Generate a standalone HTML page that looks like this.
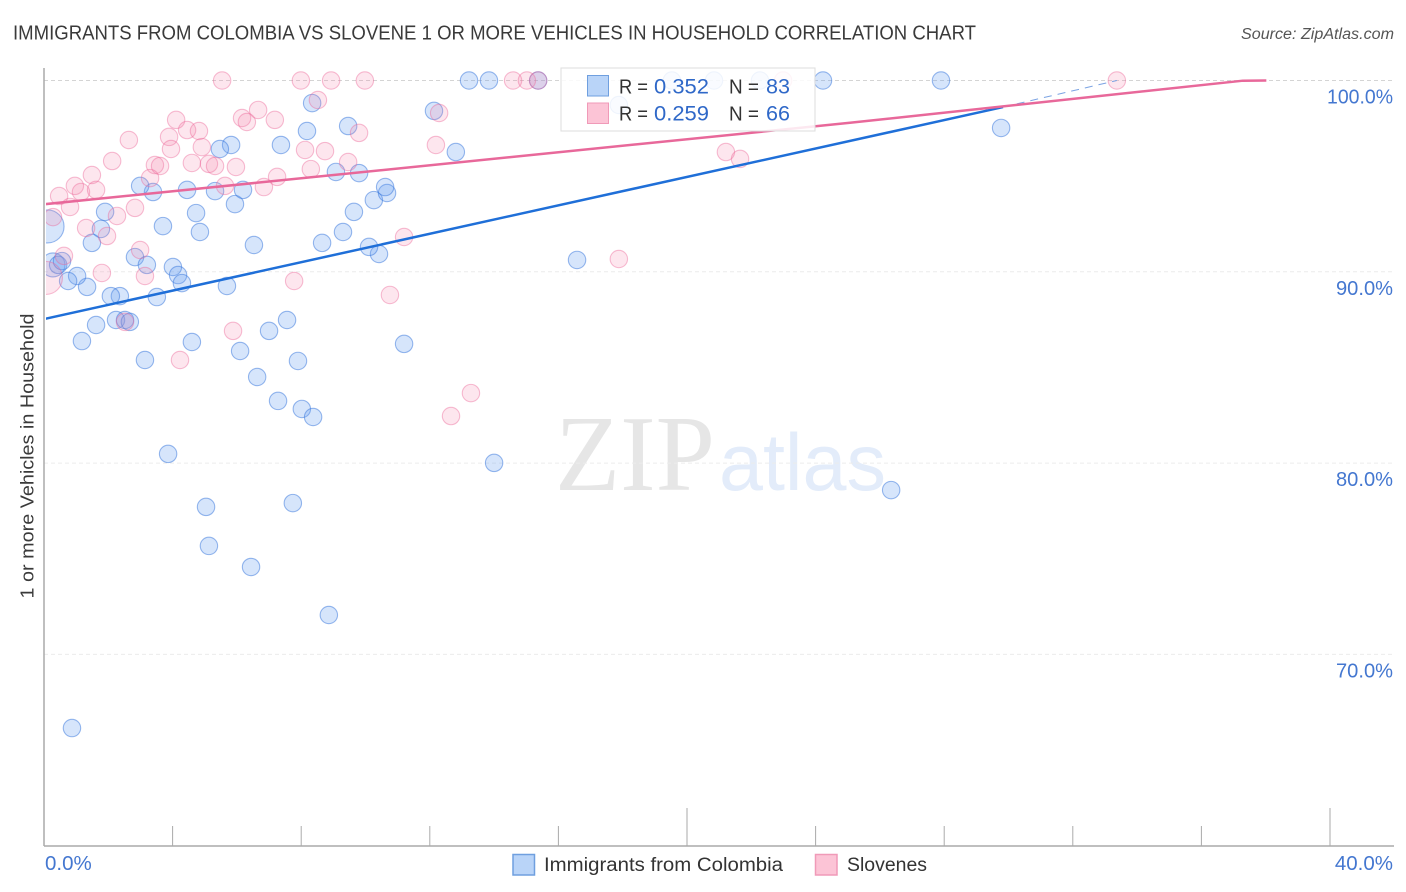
<!DOCTYPE html>
<html lang="en">
<head>
<meta charset="utf-8">
<title>Immigrants from Colombia vs Slovene Correlation Chart</title>
<style>
html,body{margin:0;padding:0;background:#fff;width:1406px;height:892px;overflow:hidden}
svg{display:block}
text{font-family:"Liberation Sans",sans-serif}
</style>
</head>
<body>
<svg id="chart" xmlns="http://www.w3.org/2000/svg" width="1406" height="892" viewBox="0 0 1406 892">
  <defs><clipPath id="plot-clip"><rect x="46" y="60" width="1348" height="786"/></clipPath></defs>
  <rect x="0" y="0" width="1406" height="892" fill="#ffffff"/>
  <text x="13" y="39.5" font-size="20" fill="#3a3a3a" textLength="963" lengthAdjust="spacingAndGlyphs">IMMIGRANTS FROM COLOMBIA VS SLOVENE 1 OR MORE VEHICLES IN HOUSEHOLD CORRELATION CHART</text>
  <text x="1241" y="39" font-size="15.5" font-style="italic" fill="#555" textLength="153" lengthAdjust="spacingAndGlyphs">Source: ZipAtlas.com</text>
  <text x="555" y="490" font-size="108" fill="#e6e6e6" style="font-family:'Liberation Serif',serif" textLength="160" lengthAdjust="spacingAndGlyphs">ZIP</text>
  <text x="719" y="490" font-size="81" fill="#e3ecfa" textLength="167" lengthAdjust="spacingAndGlyphs">atlas</text>
  <g id="grid"></g>
  <g id="points" clip-path="url(#plot-clip)"></g>
  <g id="trends" clip-path="url(#plot-clip)"></g>
  <g id="axes">
    <line x1="44" y1="68" x2="44" y2="846" stroke="#aaa" stroke-width="1.5"/>
    <line x1="44" y1="846" x2="1394" y2="846" stroke="#aaa" stroke-width="1.5"/>
  </g>
  <text transform="translate(33.5,456) rotate(-90)" text-anchor="middle" font-size="18.5" fill="#3a3a3a" textLength="285" lengthAdjust="spacingAndGlyphs">1 or more Vehicles in Household</text>
  <g id="stats-legend">
    <rect x="561" y="68" width="254" height="63" fill="#ffffff" fill-opacity="0.85" stroke="#dddddd" stroke-width="1"/>
    <rect x="587.5" y="75.5" width="21" height="20.5" fill="#b9d4f8" stroke="#6f9fdf" stroke-width="1"/>
    <rect x="587.5" y="103" width="21" height="20.5" fill="#fcc4d6" stroke="#f09ab8" stroke-width="1"/>
    <text x="619" y="93.5" font-size="20.5" fill="#333" textLength="29" lengthAdjust="spacingAndGlyphs">R =</text>
    <text x="654" y="93.5" font-size="21" fill="#2f68c8" textLength="55" lengthAdjust="spacingAndGlyphs">0.352</text>
    <text x="729" y="93.5" font-size="20.5" fill="#333" textLength="30" lengthAdjust="spacingAndGlyphs">N =</text>
    <text x="766" y="93.5" font-size="21" fill="#2f68c8" textLength="24" lengthAdjust="spacingAndGlyphs">83</text>
    <text x="619" y="120.5" font-size="20.5" fill="#333" textLength="29" lengthAdjust="spacingAndGlyphs">R =</text>
    <text x="654" y="120.5" font-size="21" fill="#2f68c8" textLength="55" lengthAdjust="spacingAndGlyphs">0.259</text>
    <text x="729" y="120.5" font-size="20.5" fill="#333" textLength="30" lengthAdjust="spacingAndGlyphs">N =</text>
    <text x="766" y="120.5" font-size="21" fill="#2f68c8" textLength="24" lengthAdjust="spacingAndGlyphs">66</text>
  </g>
  <g id="bottom-legend">
    <rect x="513" y="854.5" width="21.5" height="20.5" fill="#b9d4f8" stroke="#6f9fdf" stroke-width="1.5"/>
    <text x="544" y="871" font-size="19" fill="#333" textLength="239" lengthAdjust="spacingAndGlyphs">Immigrants from Colombia</text>
    <rect x="815.5" y="854.5" width="21.5" height="20.5" fill="#fcc4d6" stroke="#f09ab8" stroke-width="1.5"/>
    <text x="847" y="871" font-size="19" fill="#333" textLength="80" lengthAdjust="spacingAndGlyphs">Slovenes</text>
  </g>
</svg>
<script>
var xTickValues = [0,4,8,12,16,20,24,28,32,36,40];
var xMajorTicks = [20,40];
var xTickLabels = ["0.0%","40.0%"];
var xTickLabelValues = [0,40];
var yTickValues = [100,90,80,70];
var yTickLabels = ["100.0%","90.0%","80.0%","70.0%"];

var colombiaX = [1.90,1.77,1.49,2.83,3.20,3.70,4.73,4.85,4.01,4.17,4.29,3.51,5.69,2.36,2.08,1.34,1.03,0.75,1.62,1.18,2.24,2.52,2.67,3.14,4.60,6.10,7.00,7.56,7.90,6.63,7.28,8.02,8.37,3.86,5.04,5.13,6.44,7.74,8.86,0.87,14.00,26.35,11.20,16.58,10.42,10.11,9.30,8.65,6.53,9.64,10.26,10.67,10.61,9.80,9.08,9.46,8.18,8.34,7.37,5.82,5.47,5.94,6.19,5.32,4.45,3.39,2.99,12.13,12.81,29.77,13.22,13.84,15.37,24.23,27.90,22.27,20.84,19.53,17.88,0.28,0.44,0.56,0.11];
var colombiaY = [93.13,92.24,91.51,90.77,90.36,92.39,93.07,92.08,90.25,89.83,89.41,88.68,89.26,88.73,88.73,89.21,89.78,89.52,87.22,86.38,87.48,87.48,87.38,85.39,86.33,85.86,86.91,87.48,85.34,84.50,83.25,82.83,82.41,80.48,77.71,75.67,74.57,77.91,72.06,66.15,80.01,78.59,86.23,90.62,90.93,91.30,92.08,91.51,91.40,93.13,93.75,94.12,94.43,95.16,95.22,97.62,97.36,98.82,96.63,96.63,96.42,93.54,94.28,94.22,94.28,94.17,94.49,98.41,96.26,97.52,100,100,100,100,100,100,100,100,98.72,90.36,90.36,90.56,92.37];
var colombiaWeight = [1,1,1,1,1,1,1,1,1,1,1,1,1,1,1,1,1,1,1,1,1,1,1,1,1,1,1,1,1,1,1,1,1,1,1,1,1,1,1,1,1,1,1,1,1,1,1,1,1,1,1,1,1,1,1,1,1,1,1,1,1,1,1,1,1,1,1,1,1,1,1,1,1,1,1,1,1,1,1,1.9,1,1,3.6];

var sloveneX = [5.54,7.99,8.93,9.98,14.59,15.02,15.37,33.37,22.99,8.52,6.66,6.16,6.31,7.18,4.11,4.45,4.82,3.89,3.95,4.91,2.64,2.12,1.49,0.96,1.15,1.62,0.47,0.81,0.28,3.45,3.61,3.30,4.60,5.13,5.32,5.97,5.63,6.84,7.25,8.30,8.12,8.74,9.46,2.83,2.27,1.31,1.96,2.99,0.62,1.80,3.14,7.78,5.88,4.23,2.52,0.06,9.80,12.29,12.19,11.20,10.76,17.88,21.21,21.65,13.28,12.66];
var sloveneY = [100,100,100,100,100,100,100,100,100,98.98,98.46,98.04,97.83,97.94,97.94,97.41,97.36,97.05,96.42,96.52,96.89,95.79,95.06,94.49,94.17,94.28,93.96,93.39,92.86,95.58,95.53,94.90,95.69,95.64,95.53,95.48,94.49,94.43,94.96,95.37,96.37,96.31,95.74,93.34,92.92,92.29,91.87,91.14,90.83,89.94,89.78,89.52,86.91,85.39,87.38,89.68,97.26,98.30,96.63,91.82,88.79,90.67,96.26,95.90,83.66,82.46];
var sloveneWeight = [1,1,1,1,1,1,1,1,1,1,1,1,1,1,1,1,1,1,1,1,1,1,1,1,1,1,1,1,1,1,1,1,1,1,1,1,1,1,1,1,1,1,1,1,1,1,1,1,1,1,1,1,1,1,1,3.6,1,1,1,1,1,1,1,1,1,1];

var colombiaTrendX = [0,29.83];
var colombiaTrendY = [87.53,98.61];
var colombiaTrendExtensionX = [29.83,33.37];
var colombiaTrendExtensionY = [98.61,100];
var sloveneTrendX = [0,25.07,37.29,38.02];
var sloveneTrendY = [93.53,97.79,99.99,100];

var SVG_NS = "http://www.w3.org/2000/svg";
function xScale(v){ return 44 + v * 32.15; }
function yScale(v){ return 80.5 + (100 - v) * 19.13; }
function rScale(w){ return 8.7 * Math.sqrt(w); }
function make(tag, attrs, parent){
  var el = document.createElementNS(SVG_NS, tag);
  for (var k in attrs) el.setAttribute(k, attrs[k]);
  parent.appendChild(el);
  return el;
}
function pathFrom(xs, ys){
  return xs.map(function(x,i){ return (i ? "L" : "M") + xScale(x).toFixed(2) + " " + yScale(ys[i]).toFixed(2); }).join(" ");
}

var gridGroup = document.getElementById("grid");
yTickValues.forEach(function(v, i){
  var line = make("line", {x1:44, x2:1394, y1:yScale(v), y2:yScale(v), stroke: i === 0 ? "#d4d4d4" : "#ececec", "stroke-width":1, "stroke-dasharray":"4 3"}, gridGroup);
  
  
});

var pointGroup = document.getElementById("points");
colombiaX.forEach(function(x, i){
  var c = make("circle", {cx:xScale(x), cy:yScale(colombiaY[i]), r:rScale(colombiaWeight[i]), fill:"rgba(105,160,240,0.27)", stroke:"rgba(60,120,220,0.52)", "stroke-width":1.1}, pointGroup);
  
  
});
sloveneX.forEach(function(x, i){
  var c = make("circle", {cx:xScale(x), cy:yScale(sloveneY[i]), r:rScale(sloveneWeight[i]), fill:"rgba(245,130,170,0.2)", stroke:"rgba(235,100,150,0.42)", "stroke-width":1.1}, pointGroup);
  
  
});

var trendGroup = document.getElementById("trends");
var extLine = make("path", {d:pathFrom(colombiaTrendExtensionX, colombiaTrendExtensionY), fill:"none", stroke:"#7ba3e3", "stroke-width":1, "stroke-dasharray":"8 6"}, trendGroup);


var blueLine = make("path", {d:pathFrom(colombiaTrendX, colombiaTrendY), fill:"none", stroke:"#1f6fd8", "stroke-width":2.5}, trendGroup);


var pinkLine = make("path", {d:pathFrom(sloveneTrendX, sloveneTrendY), fill:"none", stroke:"#e8689a", "stroke-width":2.5}, trendGroup);



var axesGroup = document.getElementById("axes");
xTickValues.slice(1).forEach(function(v){
  var major = xMajorTicks.indexOf(v) >= 0;
  var tick = make("line", {x1:xScale(v), x2:xScale(v), y1: major ? 808 : 826, y2:846, stroke:"#aaa", "stroke-width":1}, axesGroup);
  
  
});
xTickLabels.forEach(function(label, i){
  var v = xTickLabelValues[i];
  var t = make("text", {x: i === 0 ? xScale(v) + 1 : xScale(v) + 63, y:870, "font-size":20.5, fill:"#4477d0", "text-anchor": i === 0 ? "start" : "end"}, axesGroup);
  t.textContent = label;
  
  
});
yTickLabels.forEach(function(label, i){
  var t = make("text", {x:1393, y:yScale(yTickValues[i]) + 23, "font-size":20, fill:"#4477d0", "text-anchor":"end", textLength: label.length > 5 ? 66 : 57, lengthAdjust:"spacingAndGlyphs"}, axesGroup);
  t.textContent = label;
  
  
});
</script>
</body>
</html>
